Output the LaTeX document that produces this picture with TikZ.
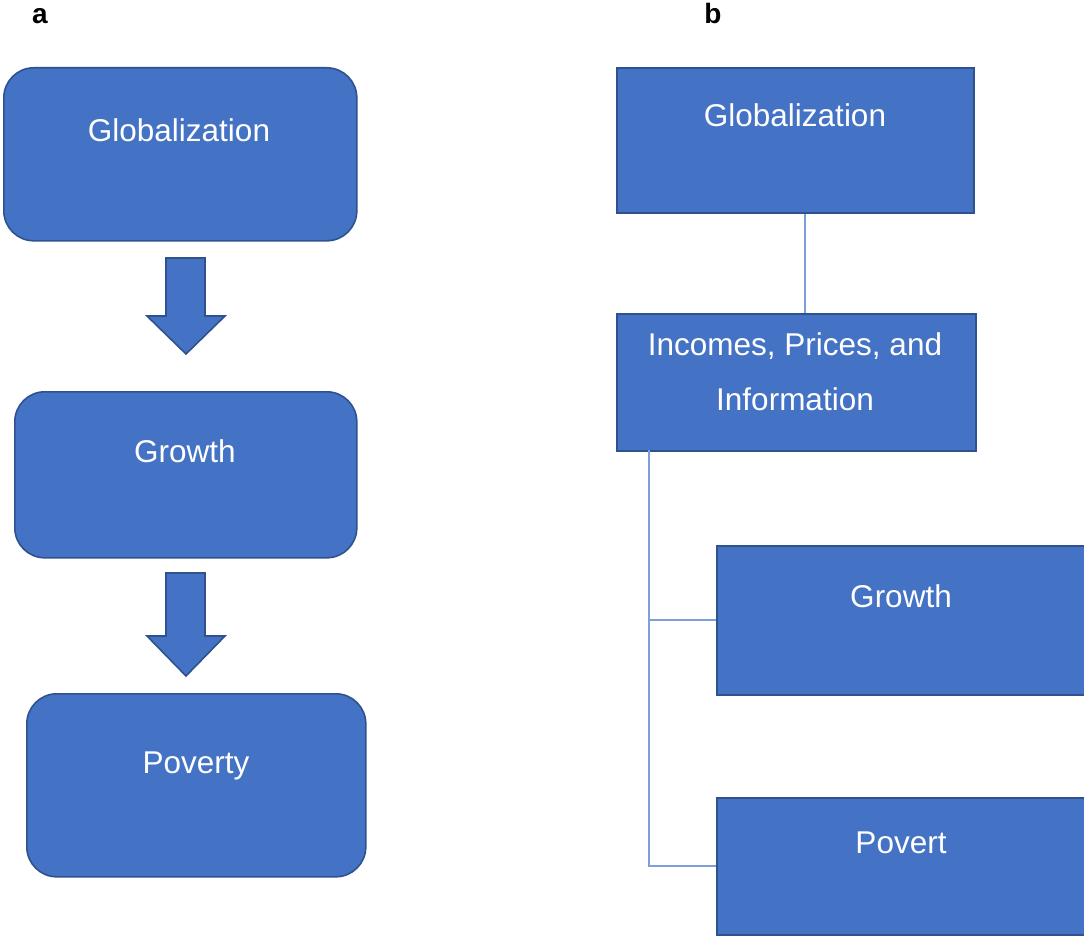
\documentclass[tikz,border=0pt]{standalone}
\usepackage{fontspec}
\setmainfont{Liberation Sans}
\begin{document}
\begin{tikzpicture}[x=1pt,y=-1pt,
  box/.style={draw=boxedge, fill=boxfill, line width=1.6pt, anchor=north west, inner sep=0pt},
  rbox/.style={box, rounded corners=30pt},
  lbl/.style={text=white, font=\fontsize{31.5}{55}\selectfont, anchor=base, inner sep=0pt, align=center},
  panel/.style={font=\fontsize{28}{30}\selectfont\bfseries, anchor=base, inner sep=0pt},
  blockarrow/.style={draw=boxedge, fill=boxfill, line width=1.6pt, line join=miter},
  link/.style={draw=linkblue, line width=1.8pt}]
\definecolor{boxfill}{HTML}{4472C4}
\definecolor{boxedge}{HTML}{2F528F}
\definecolor{linkblue}{HTML}{7F9FD8}
\useasboundingbox (0,0) rectangle (1084,936);
\clip (0,0) rectangle (1084,936);

% panel letters
\node[panel] (pa) at (40,24) {a};
\node[panel] (pb) at (713,24) {b};

% panel a: chain of rounded boxes
\node[rbox, minimum width=353pt, minimum height=173pt] (a1) at (3,67) {};
\node[rbox, minimum width=342pt, minimum height=166pt] (a2) at (14,391) {};
\node[rbox, minimum width=339pt, minimum height=183pt] (a3) at (26,693) {};
\node[lbl] (ta1) at (179,142) {Globalization};
\node[lbl] (ta2) at (185,462) {Growth};
\node[lbl] (ta3) at (196,773) {Poverty};

% block arrows between the boxes
\draw[blockarrow] (166,258) -- (205,258) -- (205,316) -- (225,316) -- (186,354)
  -- (147,316) -- (166,316) -- cycle;
\draw[blockarrow] (166,573) -- (205,573) -- (205,636) -- (225,636) -- (186,676)
  -- (147,636) -- (166,636) -- cycle;

% panel b: tree of rectangles
\node[box, minimum width=357pt, minimum height=145pt] (b1) at (616,67) {};
\node[box, minimum width=359pt, minimum height=137pt] (b2) at (616,313) {};
\node[box, minimum width=380pt, minimum height=149pt] (b3) at (716,545) {};
\node[box, minimum width=380pt, minimum height=137pt] (b4) at (716,797) {};
\node[lbl] (tb1) at (795,127) {Globalization};
% base anchor of a two-line node sits on its last line
\node[lbl] (tb2) at (795,410) {Incomes, Prices, and\\Information};
\node[lbl] (tb3) at (901,607) {Growth};
\node[lbl] (tb4) at (901,853) {Povert};

% connectors
\coordinate (top) at (805,212);
\coordinate (bot) at (805,313);
\draw[link] (b1.south -| top) -- (b2.north -| bot);
\coordinate (trunk) at (649,450);
\draw[link] (b2.south -| trunk) |- (b4.west);
\draw[link] (b3.west) -| (trunk);
\end{tikzpicture}
\end{document}
